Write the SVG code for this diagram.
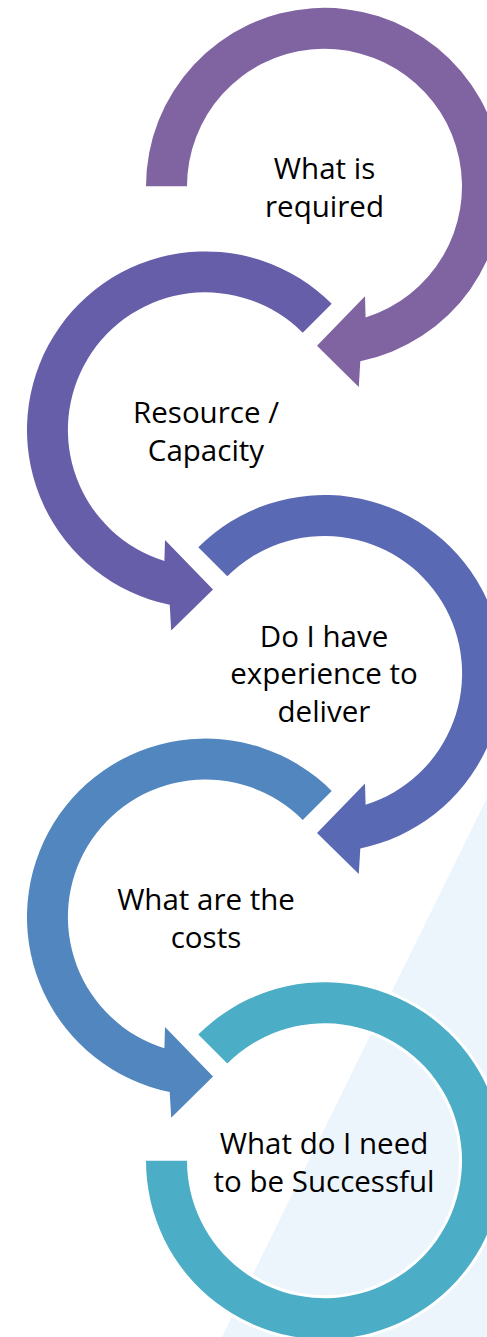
<svg xmlns="http://www.w3.org/2000/svg" width="487" height="1337" viewBox="0 0 487 1337">
  <style>
    .ring { stroke: #ffffff; stroke-width: 6; paint-order: stroke; stroke-linejoin: miter; }
    .lbl { font-family: "Open Sans", "Liberation Sans", sans-serif; font-size: 29.5px; fill: #000000; text-anchor: middle; }
  </style>
  <rect x="0" y="0" width="487" height="1337" fill="#ffffff"/>
  <polygon id="backdrop" points="487,798 487,1337 222,1337" fill="#ECF5FC"/>

  <g id="node1">
    <path class="ring" fill="#8064A2" d="M 146 186.3 A 178.5 178.5 0 1 1 360.3 361.2 L 358.8 386.9 L 317 345.8 L 365 296.3 L 365.6 317.5 A 137.5 137.5 0 1 0 187 186.3 Z"/>
    <text class="lbl"><tspan x="324.5" y="179">What is</tspan><tspan x="324.5" y="217">required</tspan></text>
  </g>

  <g id="node2">
    <path class="ring" fill="#675EA9" d="M 331.7 303.7 A 178.5 178.5 0 1 0 169.7 604.8 L 171.2 630.5 L 213 589.4 L 165 539.9 L 164.4 561.1 A 137.5 137.5 0 1 1 302.7 332.7 Z"/>
    <text class="lbl"><tspan x="206" y="422.5">Resource /</tspan><tspan x="206" y="460.5">Capacity</tspan></text>
  </g>

  <g id="node3">
    <path class="ring" fill="#5A69B3" d="M 198.3 547.3 A 178.5 178.5 0 1 1 360.3 848.4 L 358.8 874.1 L 317 833 L 365 783.5 L 365.6 804.7 A 137.5 137.5 0 1 0 227.3 576.3 Z"/>
    <text class="lbl"><tspan x="324" y="646.5">Do I have</tspan><tspan x="324" y="684">experience to</tspan><tspan x="324" y="721.5">deliver</tspan></text>
  </g>

  <g id="node4">
    <path class="ring" fill="#5186BE" d="M 331.7 790.9 A 178.5 178.5 0 1 0 169.7 1092 L 171.2 1117.7 L 213 1076.6 L 165 1027.1 L 164.4 1048.3 A 137.5 137.5 0 1 1 302.7 819.9 Z"/>
    <text class="lbl"><tspan x="206" y="910">What are the</tspan><tspan x="206" y="948">costs</tspan></text>
  </g>

  <g id="node5">
    <path class="ring" fill="#4BADC6" d="M 198.3 1034.5 A 178.5 178.5 0 1 1 146 1160.7 L 187 1160.7 A 137.5 137.5 0 1 0 227.3 1063.5 Z"/>
    <text class="lbl"><tspan x="324" y="1153.5">What do I need</tspan><tspan x="324" y="1191.5">to be Successful</tspan></text>
  </g>

  <g id="connectors"/>
</svg>
